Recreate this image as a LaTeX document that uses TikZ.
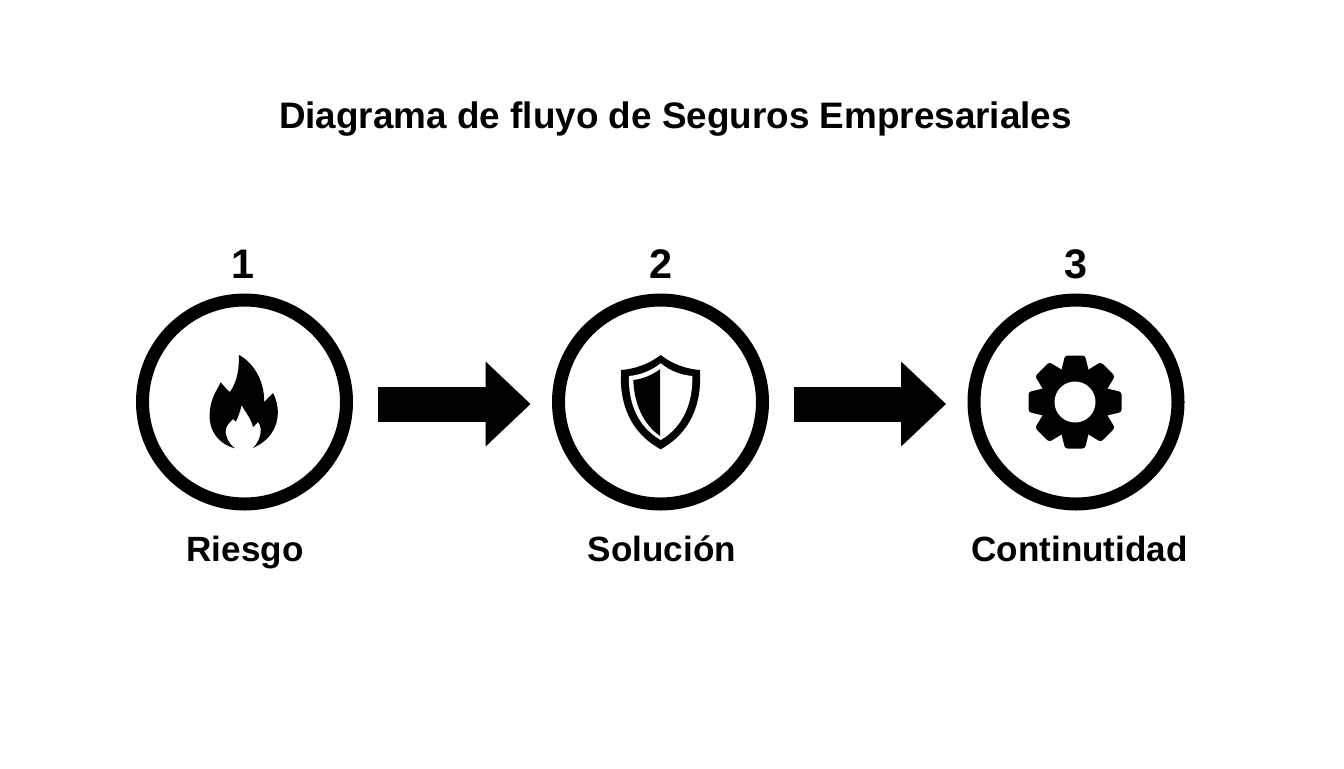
\documentclass[tikz,border=0pt]{standalone}
\usepackage{fontspec}
\setmainfont{Liberation Sans}
\usetikzlibrary{arrows.meta}
\begin{document}
\begin{tikzpicture}[x=0.75pt,y=0.75pt,yscale=-1,xscale=1,
  ring/.style={circle,draw,line width=9.75pt,minimum size=153pt,inner sep=0pt},
  bigarrow/.style={line width=26.25pt,-{Triangle[length=33.75pt,width=61.5pt]},shorten <=19.1pt,shorten >=16pt,transform canvas={yshift=-1.5pt}},
  titletext/.style={anchor=base,inner sep=0pt,font=\bfseries\fontsize{27.65}{32}\selectfont},
  numtext/.style={anchor=base,inner sep=0pt,font=\bfseries\fontsize{31}{36}\selectfont},
  labeltext/.style={anchor=base,inner sep=0pt,font=\bfseries\fontsize{26.3}{30}\selectfont}]
\useasboundingbox (0,0) rectangle (1344,768);
\draw (675.5,128) node [titletext] (title) {Diagrama de fluyo de Seguros Empresariales};
\draw (242.5,278) node [numtext] (num1) {1};
\draw (660.5,278) node [numtext] (num2) {2};
\draw (1075.5,278) node [numtext] (num3) {3};
\draw (244.5,402) node [ring] (riesgo) {};
\draw (660.5,402) node [ring] (solucion) {};
\draw (1076,402) node [ring] (continuidad) {};
\draw (245,561) node [labeltext] (lab1) {Riesgo};
\draw (662,561) node [labeltext] (lab2) {Solución};
\draw (1079.5,561) node [labeltext] (lab3) {Continutidad};
\draw [bigarrow] (riesgo) -- (solucion);
\draw [bigarrow] (solucion) -- (continuidad);
\fill (239,355) .. controls (256,364) and (265,385) .. (264,402) -- (273,393) .. controls (282,410) and (280,436) .. (253,448) .. controls (261,440) and (263,428) .. (258,422) -- (253,427) .. controls (251,418) and (245,412) .. (241.7,405) .. controls (240,412) and (237,420) .. (235.7,421.7) -- (233.3,419) .. controls (226,425) and (224,431) .. (226.7,437) .. controls (228,442) and (232,446) .. (235,448.3) .. controls (221,445) and (207,432) .. (210,410) .. controls (211,398) and (217,390) .. (220.7,382.3) .. controls (224,386) and (227,390) .. (230,392) .. controls (238,380) and (239,368) .. (239,355) -- cycle;
\fill (660.7,355) .. controls (672,364) and (686,369) .. (700,370) .. controls (702,405) and (690,433) .. (660.7,449.3) .. controls (631,433) and (619,405) .. (621,370) .. controls (635,369) and (649,364) .. (660.7,355) -- cycle;
\fill [white] (660.7,363.3) .. controls (670,371) and (681,375) .. (692.3,376) .. controls (693,403) and (683,427) .. (660.7,440) .. controls (638,427) and (628,403) .. (629,376) .. controls (640,375) and (651,371) .. (660.7,363.3) -- cycle;
\fill (660,369.3) .. controls (652,375) and (643,379) .. (633.3,380) .. controls (634,403) and (643,424) .. (660,436) -- cycle;
\foreach \a in {0,45,...,315} {
  \fill [rotate around={\a:(1075,402)},rounded corners=2pt] (1061,372) -- (1065,355.5) -- (1085,355.5) -- (1089,372) -- cycle;
}
\fill (1075,402) circle [radius=35];
\fill [white] (1075,402) circle [radius=20.5];
\end{tikzpicture}
\end{document}
